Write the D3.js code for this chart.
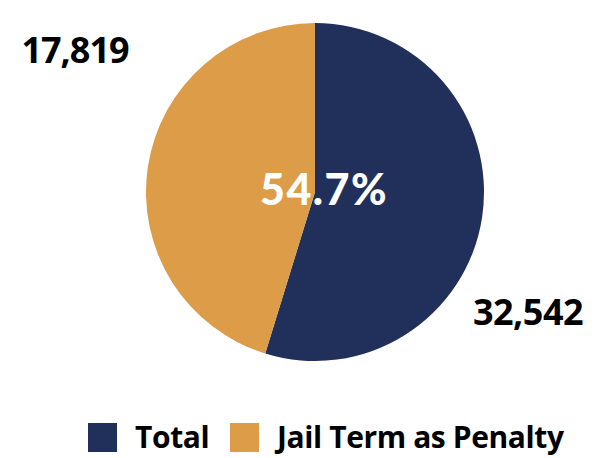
<!DOCTYPE html>
<html>
<head>
<meta charset="utf-8">
<script src="https://cdn.jsdelivr.net/npm/d3@7"></script>
<style>
  body { margin: 0; background: #fff; }
  text { font-family: "Open Sans", sans-serif; font-weight: 700; }
</style>
</head>
<body>
<div id="vis"></div>
<script>
var categories = ["Total", "Jail Term as Penalty"];
var counts = [32542, 17819];
var shareLabel = "54.7%";
var colors = ["#20305a", "#dc9c48"];

// slice sizes: jail share of total vs the rest
var slices = [counts[1], counts[0] - counts[1]];

var svg = d3.select('#vis').append('svg').attr('width', 602).attr('height', 458);

var cx = 315, cy = 192, r = 169;
var pie = d3.pie().sort(null).value(function(d) { return d; });
var arc = d3.arc().innerRadius(0).outerRadius(r);

var g = svg.append('g').attr('transform', 'translate(' + cx + ',' + cy + ')');
g.selectAll('path')
  .data(pie(slices)).enter().append('path')
  .attr('d', arc)
  .attr('fill', function(d, i) { return colors[i]; });

g.append('text')
  .attr('x', 9).attr('y', 13)
  .attr('text-anchor', 'middle')
  .attr('fill', '#fff')
  .style('font-family', 'Lato, sans-serif')
  .style('font-weight', 900)
  .style('font-size', '43px')
  .style('letter-spacing', '1.5px')
  .text(shareLabel);

var fmt = d3.format(',');
svg.append('text')
  .attr('x', 75).attr('y', 63)
  .attr('text-anchor', 'middle')
  .style('font-size', '36px')
  .style('letter-spacing', '-1px')
  .text(fmt(counts[1]));

svg.append('text')
  .attr('x', 528).attr('y', 325)
  .attr('text-anchor', 'middle')
  .style('font-size', '36px')
  .style('letter-spacing', '-0.5px')
  .text(fmt(counts[0]));

// legend
var legX = [88, 230];
var leg = svg.selectAll('g.leg')
  .data(categories).enter().append('g')
  .attr('class', 'leg')
  .attr('transform', function(d, i) { return 'translate(' + legX[i] + ',423)'; });
leg.append('rect')
  .attr('width', 29).attr('height', 29)
  .attr('fill', function(d, i) { return colors[i]; });
leg.append('text')
  .attr('x', 47).attr('y', 25)
  .style('font-size', '30px')
  .style('letter-spacing', '-0.4px')
  .text(function(d) { return d; });
</script>
</body>
</html>
